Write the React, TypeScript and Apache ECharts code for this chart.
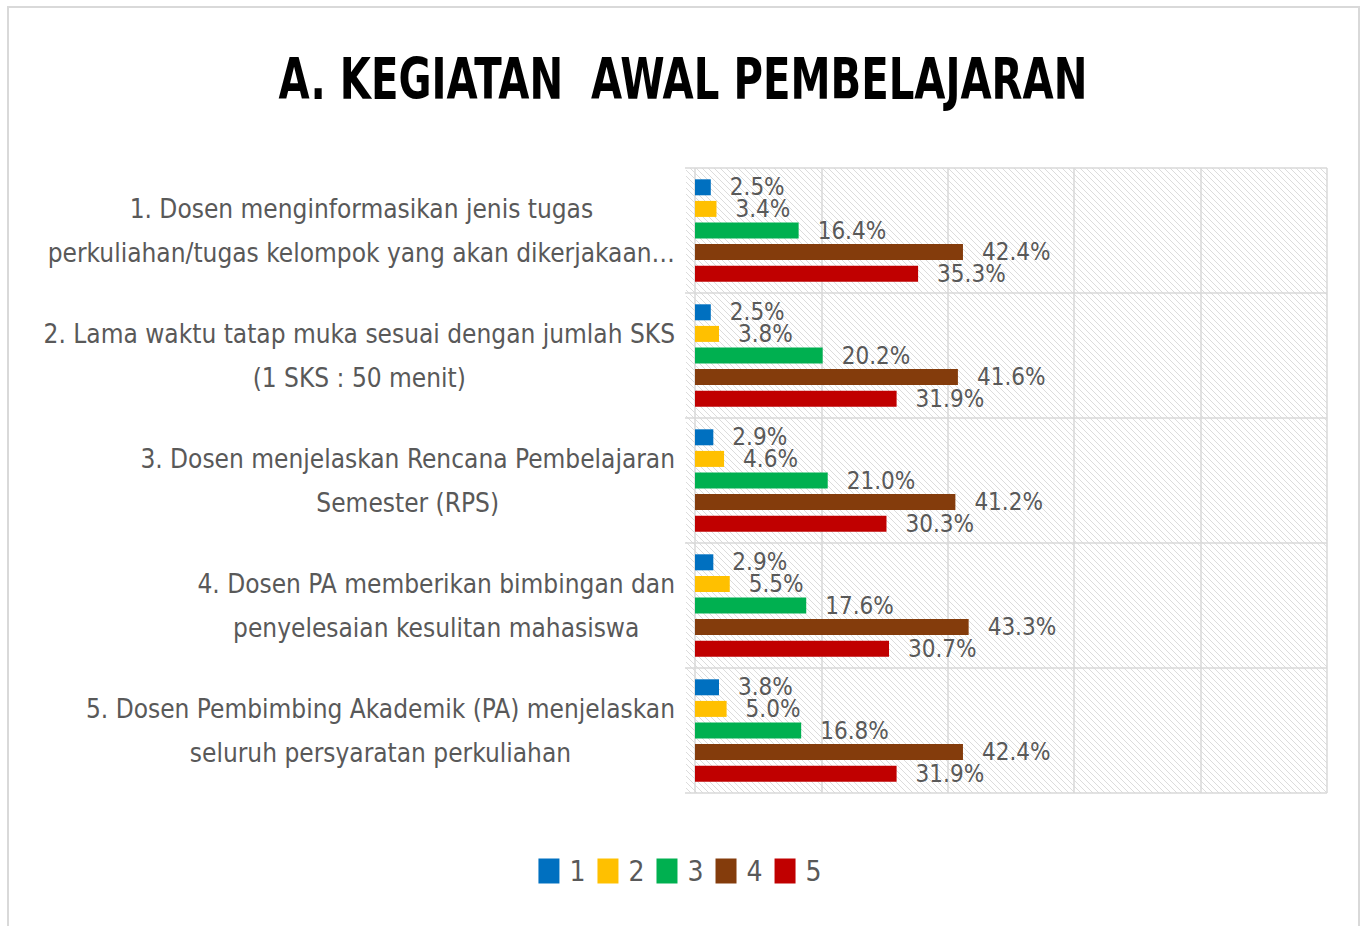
import React, { useEffect, useRef } from "react";
import * as echarts from "echarts";

const titleText = "A. KEGIATAN  AWAL PEMBELAJARAN";
const categories = [
  "1. Dosen menginformasikan jenis tugas\nperkuliahan/tugas kelompok yang akan dikerjakaan…",
  "2. Lama waktu tatap muka sesuai dengan jumlah SKS\n(1 SKS : 50 menit)",
  "3. Dosen menjelaskan Rencana Pembelajaran\nSemester (RPS)",
  "4. Dosen PA memberikan bimbingan dan\npenyelesaian kesulitan mahasiswa",
  "5. Dosen Pembimbing Akademik (PA) menjelaskan\nseluruh persyaratan perkuliahan",
];
const seriesNames = ["1", "2", "3", "4", "5"];
const values1 = [2.5, 2.5, 2.9, 2.9, 3.8];
const values2 = [3.4, 3.8, 4.6, 5.5, 5.0];
const values3 = [16.4, 20.2, 21.0, 17.6, 16.8];
const values4 = [42.4, 41.6, 41.2, 43.3, 42.4];
const values5 = [35.3, 31.9, 30.3, 30.7, 31.9];
const allValues = [values1, values2, values3, values4, values5];
const colors = ["#0070C0", "#FFC000", "#00B050", "#843C0C", "#C00000"];

const FONT = "'DejaVu Sans Condensed', Lato, sans-serif";
const GRAY = "#595959";

function makeHatch(): string {
  const s = 6;
  const c = document.createElement("canvas");
  c.width = s;
  c.height = s;
  const ctx = c.getContext("2d")!;
  ctx.fillStyle = "#ffffff";
  ctx.fillRect(0, 0, s, s);
  ctx.strokeStyle = "#dcdcdc";
  ctx.lineWidth = 1;
  ctx.beginPath();
  ctx.moveTo(-1, -1);
  ctx.lineTo(s + 1, s + 1);
  ctx.moveTo(-s - 1, -1);
  ctx.lineTo(1, s + 1);
  ctx.moveTo(s - 1, -1);
  ctx.lineTo(2 * s + 1, s + 1);
  ctx.stroke();
  return c.toDataURL();
}

export default function App() {
  const ref = useRef<HTMLDivElement>(null);
  useEffect(() => {
    if (!ref.current) return;
    const chart = echarts.init(ref.current, null, { renderer: "svg" });
    const hatch = makeHatch();
    chart.setOption({
      animation: false,
      backgroundColor: "#ffffff",
      graphic: [
        {
          type: "rect",
          z: -10,
          shape: { x: 8, y: 7, width: 1351, height: 930 },
          style: { fill: "none", stroke: "#d9d9d9", lineWidth: 2 },
        },
        {
          type: "rect",
          z: -5,
          shape: { x: 686, y: 168, width: 641, height: 625 },
          style: { fill: { image: hatch, repeat: "repeat" } as any },
        },
        {
          type: "text",
          x: 683,
          y: 79,
          scaleX: 0.785,
          scaleY: 1,
          style: {
            text: titleText,
            fontFamily: FONT,
            fontWeight: "bold",
            fontSize: 57,
            fill: "#000000",
            textAlign: "center",
            textVerticalAlign: "middle",
          },
        },
      ],
      grid: {
        left: 695,
        right: 33,
        top: 168,
        bottom: 133,
        containLabel: false,
        outerBoundsMode: "none",
      },
      legend: {
        data: seriesNames,
        left: "center",
        top: 852,
        icon: "rect",
        itemWidth: 21,
        itemHeight: 25,
        itemGap: 12,
        textStyle: { fontFamily: FONT, fontSize: 28, color: GRAY, padding: [0, 0, 0, 5] },
      },
      xAxis: {
        type: "value",
        min: 0,
        max: 100,
        interval: 20,
        axisLabel: { show: false },
        axisLine: { show: false },
        axisTick: { show: false },
        splitLine: { show: true, lineStyle: { color: "#d9d9d9", width: 1.5 } },
      },
      yAxis: {
        type: "category",
        inverse: true,
        data: categories,
        axisLine: { show: false },
        axisTick: { show: true, length: 10, interval: 0, lineStyle: { color: "#d9d9d9", width: 1.5 } },
        splitLine: { show: true, interval: 0, lineStyle: { color: "#d9d9d9", width: 1.5 } },
        axisLabel: {
          margin: 20,
          interval: 0,
          formatter: (v: string) =>
            v
              .split("\n")
              .map((l) => `{c|${l}}`)
              .join("\n"),
          rich: {
            c: {
              fontFamily: FONT,
              fontSize: 26,
              color: GRAY,
              lineHeight: 44,
              align: "center",
            },
          },
        },
      },
      series: seriesNames.map((name, i) => ({
        name,
        type: "bar",
        data: allValues[i],
        barWidth: 16,
        barGap: "35%",
        itemStyle: { color: colors[i] },
        label: {
          show: true,
          position: "right",
          distance: 19,
          formatter: (p: any) => `${Number(p.value).toFixed(1)}%`,
          fontFamily: FONT,
          fontSize: 24,
          color: GRAY,
        },
      })),
    });
    return () => chart.dispose();
  }, []);
  return (
    <div
      ref={ref}
      style={{ position: "fixed", left: 0, top: 0, width: 1360, height: 926 }}
    />
  );
}
